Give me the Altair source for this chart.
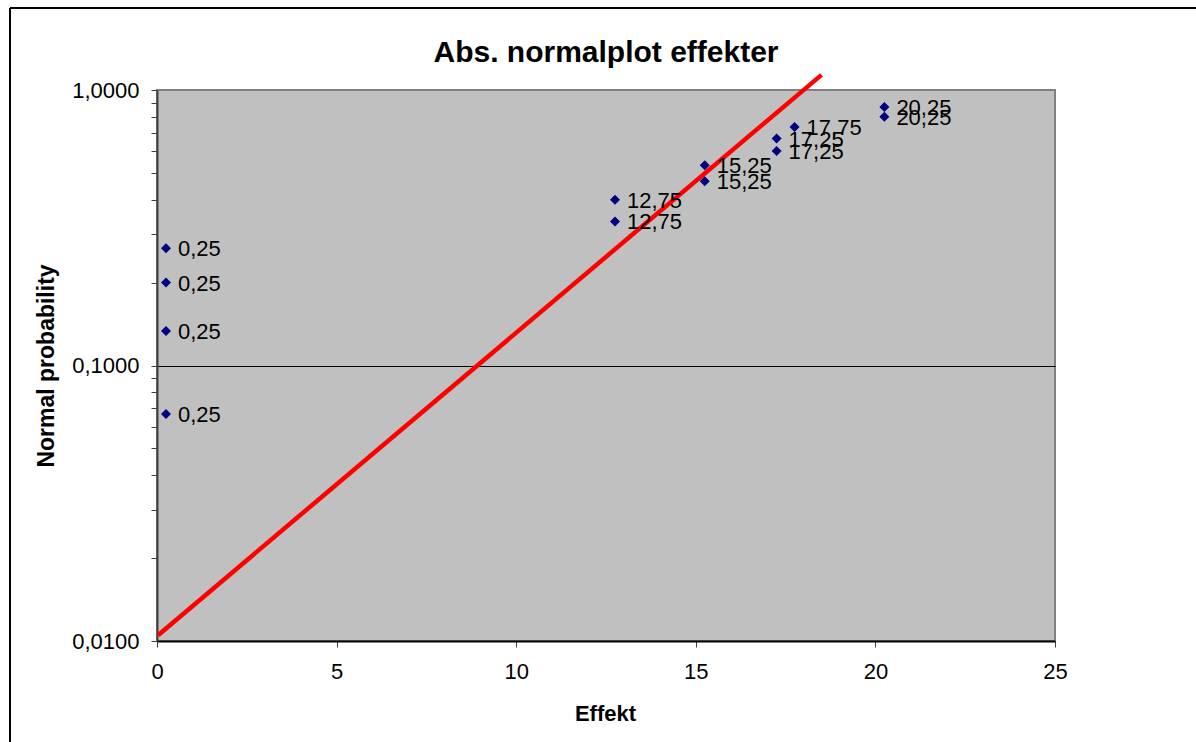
import altair as alt
import pandas as pd

# Data
effekt = [0.25, 0.25, 0.25, 0.25, 12.75, 12.75, 15.25, 15.25, 17.25, 17.25, 17.75, 20.25, 20.25]
prob = [0.0667, 0.1333, 0.2000, 0.2667, 0.3333, 0.4000, 0.4667, 0.5333, 0.6000, 0.6667, 0.7333, 0.8000, 0.8667]
labels = ["0,25", "0,25", "0,25", "0,25", "12,75", "12,75", "15,25", "15,25",
          "17,25", "17,25", "17,75", "20,25", "20,25"]

trend_x = [0.03, 18.5]
trend_y = [0.0105, 1.135]

x_ticks = [0, 5, 10, 15, 20, 25]
y_ticks = [0.01, 0.02, 0.03, 0.04, 0.05, 0.06, 0.07, 0.08, 0.09,
           0.1, 0.2, 0.3, 0.4, 0.5, 0.6, 0.7, 0.8, 0.9, 1.0]

title_text = ["Abs. normalplot effekter"]

pts = pd.DataFrame({"Effekt": effekt, "Prob": prob, "Label": labels})
trend = pd.DataFrame({"Effekt": trend_x, "Prob": trend_y})

FONT = "Liberation Sans"

xscale = alt.Scale(domain=[0, 25], nice=False, zero=False)
yscale = alt.Scale(type="log", domain=[0.01, 1], nice=False)

xaxis = alt.Axis(
    values=x_ticks, title="Effekt", grid=False, labelFlush=False,
    labelFont=FONT, labelFontSize=22, labelColor="#000000", labelPadding=14,
    tickColor="#404040", tickSize=6, tickWidth=1,
    domainColor="#000000", domainWidth=2,
    titleFont=FONT, titleFontSize=22, titleFontWeight="bold", titleColor="#000000",
    titleBaseline="alphabetic", titleX=448, titleY=79,
)

major_test = "abs(log(datum.value)/log(10) - round(log(datum.value)/log(10))) < 1e-6"
yaxis = alt.Axis(
    values=y_ticks, title="Normal probability", labelFlush=False,
    labelExpr=f"({major_test}) ? replace(format(datum.value, '.4f'), '.', ',') : ''",
    labelFont=FONT, labelFontSize=22, labelColor="#000000", labelPadding=12,
    tickColor="#404040", tickSize=6, tickWidth=1,
    domainColor="#404040", domainWidth=2,
    grid=True, gridColor="#000000", gridWidth=1,
    gridOpacity={"condition": {"test": "abs(datum.value - 0.1) < 1e-9", "value": 1}, "value": 0},
    titleFont=FONT, titleFontSize=23, titleFontWeight="bold", titleColor="#000000",
    titleBaseline="alphabetic", titleX=-104, titleY=275.5, titleAngle=-90,
)

points = alt.Chart(pts).mark_point(
    shape="diamond", filled=True, color="#000080", size=100, opacity=1
).encode(
    x=alt.X("Effekt:Q", scale=xscale, axis=xaxis),
    y=alt.Y("Prob:Q", scale=yscale, axis=yaxis),
)

texts = alt.Chart(pts).mark_text(
    align="left", baseline="middle", dx=12, dy=1, font=FONT, fontSize=22, color="#000000"
).encode(
    x=alt.X("Effekt:Q", scale=xscale),
    y=alt.Y("Prob:Q", scale=yscale),
    text="Label:N",
)

line = alt.Chart(trend).mark_line(color="#FF0000", strokeWidth=4.5, clip=False).encode(
    x=alt.X("Effekt:Q", scale=xscale),
    y=alt.Y("Prob:Q", scale=yscale),
)

title = alt.Chart(pd.DataFrame({"t": title_text})).mark_text(
    align="center", baseline="alphabetic", font=FONT, fontSize=30, fontWeight="bold",
    color="#000000"
).encode(x=alt.value(449), y=alt.value(-28), text="t:N")

# outer chart frame (decoration)
frame_left = alt.Chart(pts).mark_rule(color="#000000", strokeWidth=1.5).encode(
    x=alt.value(-147), y=alt.value(-82), y2=alt.value(700)
)
frame_top = alt.Chart(pts).mark_rule(color="#000000", strokeWidth=1.5).encode(
    x=alt.value(-147), x2=alt.value(1100), y=alt.value(-82)
)

chart = alt.layer(line, points, texts, title, frame_left, frame_top).properties(
    width=898, height=551,
    autosize=alt.AutoSizeParams(type="none"),
    padding={"left": 157, "top": 90, "right": 141, "bottom": 101},
    background="#FFFFFF",
).configure_view(
    fill="#C0C0C0", stroke="#808080", strokeWidth=2
)

chart.save("out.html", embed_options={"renderer": "svg", "actions": False})
